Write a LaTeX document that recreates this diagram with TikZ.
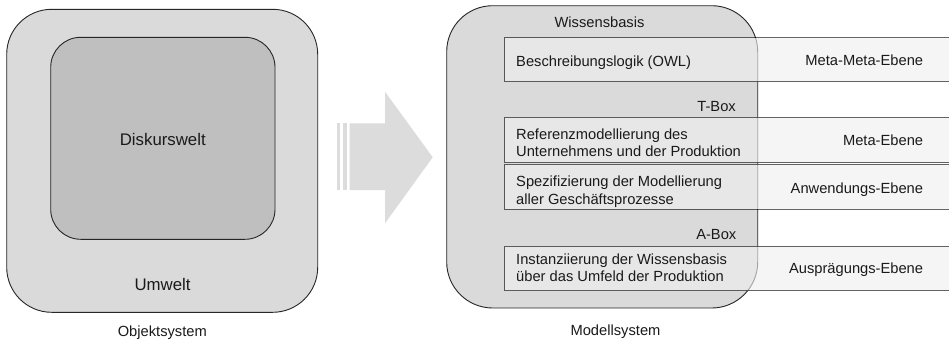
\documentclass[tikz,border=0pt]{standalone}
\usepackage{fontspec}
\setmainfont{Liberation Sans}
\definecolor{outerfill}{HTML}{DADADA}
\definecolor{innerfill}{HTML}{BFBFBF}
\definecolor{arrowfill}{HTML}{DCDCDC}
\definecolor{rowfill}{HTML}{EFEFEF}
\definecolor{edgecol}{HTML}{262626}
\definecolor{txtcol}{HTML}{1A1A1A}
\newcommand{\twoln}[2]{\begin{tabular}[t]{@{}l@{}}#1\\#2\end{tabular}}
\begin{document}
\begin{tikzpicture}[x=1pt,y=-1pt,
  every node/.style={inner sep=0pt, text=txtcol, font=\fontsize{14.7}{17.5}\selectfont},
  bigfont/.style={font=\fontsize{16.8}{20}\selectfont},
  worldbox/.style={draw=edgecol, line width=0.9pt},
  rowbox/.style={fill=rowfill, fill opacity=0.62, draw=black, draw opacity=0.6, line width=0.9pt},
  arrowshape/.style={fill=arrowfill, draw=none}]
\useasboundingbox (0,0) rectangle (949,340);
\fill[white] (0,0) rectangle (949,340);
% left object system
\path[worldbox, fill=outerfill, rounded corners=45pt] (6.7,9.3) rectangle (317.7,312.3);
\path[worldbox, fill=innerfill, rounded corners=30pt] (50.7,37.3) rectangle (275,239.3);
\node[bigfont, anchor=base] (disk) at (162.8,145) {Diskurswelt};
\node[bigfont, anchor=base] (umw) at (162.5,290) {Umwelt};
\node[anchor=base] (obj) at (162.3,336.5) {Objektsystem};
% arrow
\fill[arrowshape] (336.7,123.3) rectangle (340,190);
\fill[arrowshape] (342.7,123.3) rectangle (347.2,190);
\fill[arrowshape] (349.5,123.3) -- (385,123.3) -- (385,91.7) -- (432.7,157.3)
  -- (385,223.3) -- (385,190) -- (349.5,190) -- cycle;
% right model system
\path[worldbox, fill=outerfill, rounded corners=46pt] (446.7,5.7) rectangle (757.7,308);
\path[rowbox] (504.5,37.5) rectangle (955,81.7);
\path[rowbox] (504.5,117.3) rectangle (955,162.7);
\path[rowbox] (504.5,164.3) rectangle (955,209.3);
\path[rowbox] (504.5,246) rectangle (955,290.7);
\node[anchor=base] (wb) at (599.5,27.3) {Wissensbasis};
\node[anchor=base east] (tbox) at (736,111.7) {T-Box};
\node[anchor=base east] (abox) at (736.5,239) {A-Box};
\node[anchor=base west] (owl) at (516,66.3) {Beschreibungslogik (OWL)};
\node[anchor=base west] (ref) at (516,139.4) {\twoln{Referenzmodellierung des}{Unternehmens und der Produktion}};
\node[anchor=base west] (spez) at (516,186.6) {\twoln{Spezifizierung der Modellierung}{aller Geschäftsprozesse}};
\node[anchor=base west] (inst) at (516,264) {\twoln{Instanziierung der Wissensbasis}{über das Umfeld der Produktion}};
\node[anchor=base east] (mm) at (923.3,65.7) {Meta-Meta-Ebene};
\node[anchor=base east] (me) at (923.3,145) {Meta-Ebene};
\node[anchor=base east] (an) at (923.3,193.3) {Anwendungs-Ebene};
\node[anchor=base east] (au) at (923.3,273.3) {Ausprägungs-Ebene};
\node[anchor=base] (mod) at (615.5,335.7) {Modellsystem};
\end{tikzpicture}
\end{document}
